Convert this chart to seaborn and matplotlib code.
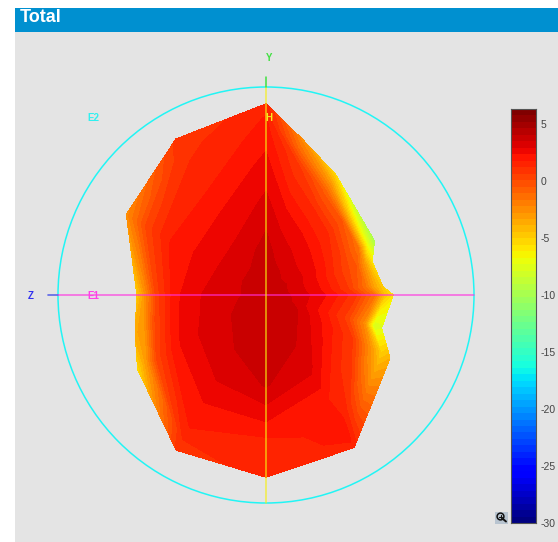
import numpy as np
import matplotlib
matplotlib.use("Agg")
import matplotlib.pyplot as plt
from matplotlib.patches import Circle, Rectangle
import pandas as pd
import seaborn as sns

WIDTH, HEIGHT = 558, 542
CENTER_X, CENTER_Y, CIRCLE_PX = 266, 295, 208

angles = [0, 4, 17.5, 26.5, 44.5, 60, 77, 90, 120, 150, 180, 196, 210, 240, 270, 300, 333, 344]
rim_radius = [0.611, 0.563, 0.534, 0.582, 0.599, 0.668, 0.769, 0.918, 0.865, 0.774,
              0.620, 0.654, 0.712, 0.861, 0.875, 0.846, 0.668, 0.577]
ring_fractions = [0, 0.25, 0.5, 0.7, 0.85, 0.93, 1.0]
center_gain = 4.0
gain_rings = [
    [3.3, 2.2, 0.8, -1.5, -4.5, -6.0],
    [3.3, 2.2, 0.7, -1.5, -3.5, -5.0],
    [3.3, 2.2, 0.7, -0.5, -3.0, -6.0],
    [3.3, 2.1, 0.5, -1.5, -7.0, -10.0],
    [3.2, 2.3, 1.2, -0.5, -5.0, -8.5],
    [3.3, 2.4, 1.2, -0.7, -3.0, -5.5],
    [3.4, 2.6, 1.5, 0.7, -1.2, -2.5],
    [3.7, 3.0, 2.5, 2.0, 1.8, 1.5],
    [3.2, 2.4, 1.6, 1.2, 1.0, 0.8],
    [3.2, 2.4, 1.7, 0.3, -1.2, -2.5],
    [3.3, 2.9, 2.2, 0.3, -2.5, -5.0],
    [3.4, 2.9, 2.2, 0.0, -3.0, -3.5],
    [3.5, 3.0, 2.2, 0.2, -3.0, -5.5],
    [3.7, 3.1, 2.3, 1.8, 1.2, 0.8],
    [3.9, 3.5, 2.3, 1.3, 1.2, 1.5],
    [3.7, 3.0, 1.8, 2.2, 2.0, 1.5],
    [3.5, 2.0, 0.6, -3.0, -5.0, -4.0],
    [3.4, 2.0, 0.4, -2.5, -7.8, -7.5],
]
bar_ticks = [5, 0, -5, -10, -15, -20, -25, -30]
GAIN_MIN, GAIN_MAX = -30, 6.3
N_COLORS = 64

PANEL = "#e4e4e4"
HEADER = "#0090d0"

sns.set_theme(style="white", font="Liberation Sans")
jet_cmap = plt.get_cmap("jet", N_COLORS)


def px_x(x):
    return (x - CENTER_X) / CIRCLE_PX


def px_y(y):
    return (CENTER_Y - y) / CIRCLE_PX


def draw_frame(fig):
    bg = fig.add_axes([0, 0, 1, 1], zorder=0)
    bg.set_xlim(0, WIDTH)
    bg.set_ylim(HEIGHT, 0)
    bg.axis("off")
    bg.add_patch(Rectangle((15, 32), WIDTH - 15, HEIGHT - 32, color=PANEL, lw=0))
    bg.add_patch(Rectangle((15, 8), WIDTH - 15, 24, color=HEADER, lw=0))
    bg.text(20, 17.5, "Total", color="white", fontsize=13, fontweight="bold", va="center", ha="left")


def draw_pattern(ax):
    theta = np.radians(angles + [360])
    rim = np.array(rim_radius + rim_radius[:1])
    fractions = np.array(ring_fractions)
    gains = np.array(gain_rings + gain_rings[:1])
    gains = np.column_stack([np.full(len(theta), center_gain), gains])

    radius = np.outer(rim, fractions)
    x = radius * np.cos(theta)[:, None]
    y = radius * np.sin(theta)[:, None]

    levels = np.linspace(GAIN_MIN, GAIN_MAX, N_COLORS + 1)
    cs = ax.contourf(x, y, gains, levels=levels, cmap=jet_cmap, vmin=GAIN_MIN, vmax=GAIN_MAX)
    cs.set_edgecolor("face")
    cs.set_linewidth(0.3)


def draw_axes_lines(ax):
    ax.add_patch(Circle((0, 0), 1, fill=False, ec="#22f5f5", lw=1.1, zorder=3))
    lines = [
        ([px_x(48), px_x(58)], [0, 0], "#3a45e8", 1.2, 0.8),
        ([px_x(58), px_x(474)], [0, 0], "#ff30e0", 1.1, 0.75),
        ([0, 0], [px_y(503), px_y(87)], "#f6f010", 1.1, 0.75),
        ([0, 0], [px_y(87), px_y(77)], "#40e040", 1.1, 1),
    ]
    for xs, ys, color, lw, alpha in lines:
        line = pd.DataFrame({"x": xs, "y": ys})
        sns.lineplot(data=line, x="x", y="y", ax=ax, color=color, lw=lw, alpha=alpha, sort=False,
                     estimator=None, zorder=4)


def draw_labels(ax):
    labels = [
        ("Y", 269, 58, "#40e040"),
        ("H", 269, 118, "#f6e820"),
        ("E2", 93, 118, "#30f0f0"),
        ("E1", 93, 296, "#ff40e8"),
        ("Z", 31, 296, "#3030f0"),
    ]
    for text, x, y, color in labels:
        ax.text(px_x(x), px_y(y), text, color=color, fontsize=7, fontweight="bold",
                ha="center", va="center", zorder=5)


def draw_colorbar(fig):
    cax = fig.add_axes([511 / WIDTH, 1 - 523 / HEIGHT, 25 / WIDTH, 414 / HEIGHT], zorder=2)
    steps = np.linspace(GAIN_MAX, GAIN_MIN, N_COLORS).reshape(-1, 1)
    sns.heatmap(steps, ax=cax, cmap=jet_cmap, vmin=GAIN_MIN, vmax=GAIN_MAX, cbar=False,
                xticklabels=False, yticklabels=False)
    for spine in cax.spines.values():
        spine.set_visible(True)
        spine.set_color("#555555")
        spine.set_linewidth(0.8)
    cax.yaxis.tick_right()
    positions = [(GAIN_MAX - t) / (GAIN_MAX - GAIN_MIN) * N_COLORS for t in bar_ticks]
    cax.set_yticks(positions)
    cax.set_yticklabels(bar_ticks, rotation=0, fontsize=7.5, color="#444444")
    cax.tick_params(axis="y", direction="in", length=3, width=0.7, color="#333333", pad=3, right=True)
    cax.set_xticks([])


def draw_zoom_icon(fig):
    icon = fig.add_axes([0, 0, 1, 1], zorder=3)
    icon.set_xlim(0, WIDTH)
    icon.set_ylim(HEIGHT, 0)
    icon.axis("off")
    icon.add_patch(Rectangle((494.5, 511.5), 13, 12, color="#b8c4d0", lw=0))
    icon.add_patch(Circle((500.5, 516.5), 3.4, fill=False, ec="#111111", lw=1.1))
    icon.plot([503, 506], [519, 521.5], color="#111111", lw=1.4)
    icon.plot([498.7, 502.3], [516.5, 516.5], color="#111111", lw=0.8)
    icon.plot([500.5, 500.5], [514.7, 518.3], color="#111111", lw=0.8)


def main():
    fig = plt.figure(figsize=(WIDTH / 100, HEIGHT / 100), dpi=100, facecolor="white")
    draw_frame(fig)

    ax = fig.add_axes([0, 0, 1, 1], zorder=1)
    ax.patch.set_alpha(0)
    ax.axis("off")
    draw_pattern(ax)
    draw_axes_lines(ax)
    draw_labels(ax)
    ax.set_xlim(px_x(0), px_x(WIDTH))
    ax.set_ylim(px_y(HEIGHT), px_y(0))

    draw_colorbar(fig)
    draw_zoom_icon(fig)

    fig.savefig("out.png", dpi=100)
    plt.close(fig)


if __name__ == "__main__":
    main()
